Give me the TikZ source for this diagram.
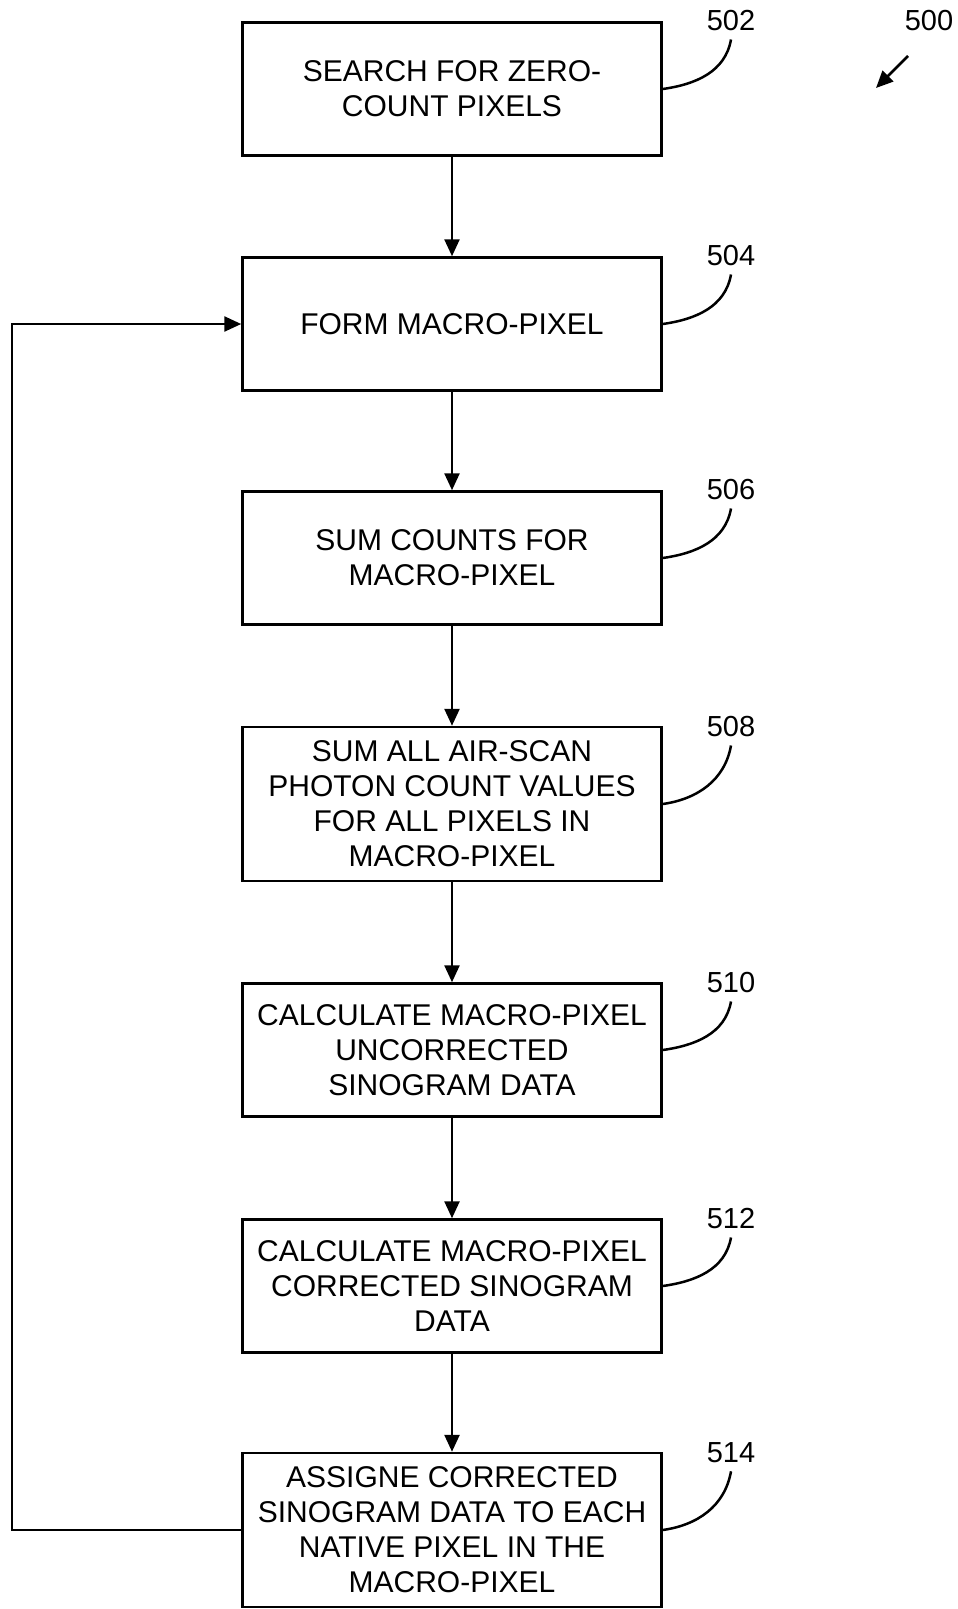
\documentclass[tikz,border=0pt]{standalone}
\usepackage{fontspec}
\setmainfont{Liberation Sans}
\usetikzlibrary{arrows.meta}
\tikzset{
  stepbox/.style={draw, line width=2.5pt, minimum width=419pt, minimum height=133pt,
    align=center, font=\fontsize{30}{35}\selectfont},
  tallbox/.style={stepbox, minimum height=154pt},
  reflabel/.style={inner sep=8pt, font=\fontsize{29}{32}\selectfont},
  flow/.style={line width=2.5pt, -{Triangle[length=17pt,width=15pt]}},
  leader/.style={line width=2.5pt}
}
\begin{document}
\begin{tikzpicture}[x=1pt,y=-1pt]
    \useasboundingbox (0,0) rectangle (958,1609);

    % Steps
    \node[stepbox] (s502) at (452,89) {SEARCH FOR ZERO-\\COUNT PIXELS};
    \node[stepbox] (s504) at (452,324) {FORM MACRO-PIXEL};
    \node[stepbox] (s506) at (452,558) {SUM COUNTS FOR\\MACRO-PIXEL};
    \node[tallbox] (s508) at (452,804) {SUM ALL AIR-SCAN\\PHOTON COUNT VALUES\\FOR ALL PIXELS IN\\MACRO-PIXEL};
    \node[stepbox] (s510) at (452,1050) {CALCULATE MACRO-PIXEL\\UNCORRECTED\\SINOGRAM DATA};
    \node[stepbox] (s512) at (452,1286) {CALCULATE MACRO-PIXEL\\CORRECTED SINOGRAM\\DATA};
    \node[tallbox] (s514) at (452,1530) {ASSIGNE CORRECTED\\SINOGRAM DATA TO EACH\\NATIVE PIXEL IN THE\\MACRO-PIXEL};

    % Reference numerals
    \node[reflabel] (n502) at (731,21) {502};
    \node[reflabel] (n504) at (731,256) {504};
    \node[reflabel] (n506) at (731,490) {506};
    \node[reflabel] (n508) at (731,727) {508};
    \node[reflabel] (n510) at (731,983) {510};
    \node[reflabel] (n512) at (731,1219) {512};
    \node[reflabel] (n514) at (731,1453) {514};
    \node[reflabel] (n500) at (929,21) {500};

    % Leaders
    \foreach \i in {502,504,506,508,510,512,514}
        \draw[leader] (s\i.east) to[out=8,in=-100] (n\i.south);

    % Flow
    \draw[flow] (s502) -- (s504);
    \draw[flow] (s504) -- (s506);
    \draw[flow] (s506) -- (s508);
    \draw[flow] (s508) -- (s510);
    \draw[flow] (s510) -- (s512);
    \draw[flow] (s512) -- (s514);

    % Loop back
    \coordinate (back) at (12,0);
    \draw[flow] (s514.west) -- (s514.west -| back) |- (s504.west);

    % Figure pointer
    \coordinate (t500) at (908,56);
    \coordinate (h500) at (876,88);
    \draw[flow] (t500) -- (h500);
\end{tikzpicture}
\end{document}
